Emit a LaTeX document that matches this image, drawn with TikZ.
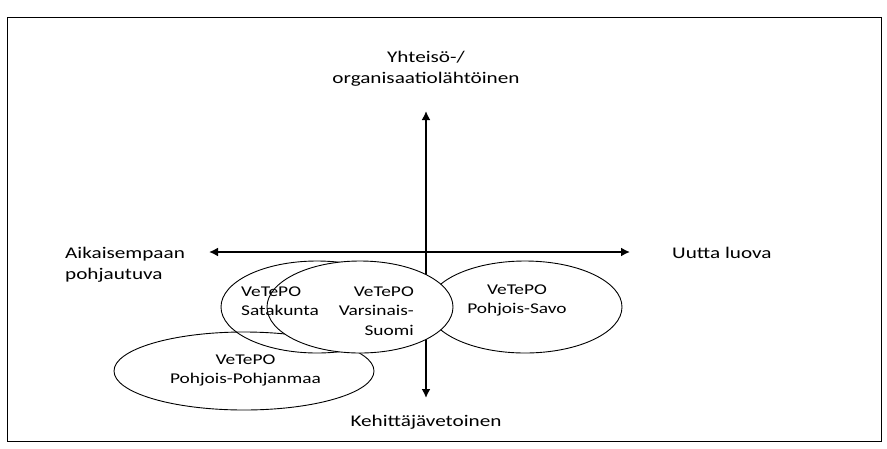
\documentclass[tikz,border=0pt]{standalone}
\usepackage{fontspec}
\setmainfont{Carlito}[FakeStretch=1.3]
\usetikzlibrary{shapes.geometric,arrows.meta}
\begin{document}
\begin{tikzpicture}[x=1pt,y=1pt,
  axlbl/.style={font=\fontsize{16.3}{21}\selectfont, inner sep=0pt},
  ovlbl/.style={font=\fontsize{14.9}{19.5}\selectfont, inner sep=0pt},
  oval/.style={draw, ellipse, line width=0.9pt, inner sep=0pt},
  axis/.style={{Latex[length=9pt,width=9pt]}-{Latex[length=9pt,width=9pt]}}]
\useasboundingbox (0,0) rectangle (887,-448);
\node[draw, line width=1.3pt, minimum width=874pt, minimum height=424pt, inner sep=0pt, anchor=north west] (frame) at (7,-17) {};
% axes
\coordinate (top) at (426,-111);
\coordinate (bot) at (426,-398);
\coordinate (lft) at (209,-252);
\coordinate (rgt) at (630,-252);
\draw[axis, line width=2.1pt] (bot) -- (top);
\draw[axis, line width=1.7pt] (lft) -- (rgt);
% ellipses
\node[oval, minimum width=260pt, minimum height=78pt] (pp) at (244,-371) {};
\node[oval, minimum width=192pt, minimum height=92pt] (sk) at (317,-307) {};
\node[oval, minimum width=194pt, minimum height=92pt] (ps) at (525,-307) {};
\node[oval, fill=white, minimum width=186pt, minimum height=92pt] (vs) at (360,-307) {};
% axis labels
\node[axlbl, align=center, anchor=north] (ylab) at (426,-47.3) {\strut Yhteisö-/\\organisaatiolähtöinen};
\node[axlbl, anchor=north] (blab) at (426,-411.3) {\strut Kehittäjävetoinen};
\node[axlbl, align=left, anchor=north west] (llab) at (65,-243.3) {\strut Aikaisempaan\\pohjautuva};
\node[axlbl, anchor=north west] (rlab) at (672,-243.3) {\strut Uutta luova};
% ellipse texts
\node[ovlbl, align=left, anchor=north west] (skt) at (241,-282.3) {\strut VeTePO\\Satakunta};
\node[ovlbl, align=right, anchor=north east] (vst) at (414,-282.3) {\strut VeTePO\\Varsinais-\\Suomi};
\node[ovlbl, align=center, anchor=north] (pst) at (517,-280.3) {\strut VeTePO\\Pohjois-Savo};
\node[ovlbl, align=center, anchor=north] (ppt) at (245.5,-350.3) {\strut VeTePO\\Pohjois-Pohjanmaa};
\end{tikzpicture}
\end{document}
